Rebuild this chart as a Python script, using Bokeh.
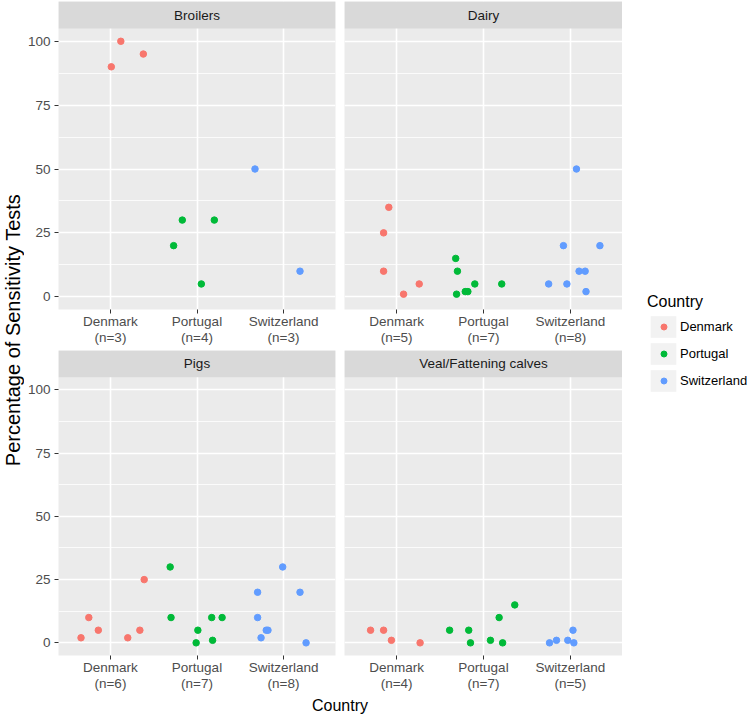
import math
from bokeh.plotting import figure
from bokeh.layouts import row, column
from bokeh.models import (FixedTicker, BoxAnnotation, Label, Legend, LegendItem,
                          ColumnDataSource, Range1d)
from bokeh.embed import file_html
from bokeh.resources import INLINE

# ---------------- data ----------------
COUNTRIES = ["Denmark", "Portugal", "Switzerland"]
COLORS = ["#F8766D", "#00BA38", "#619CFF"]
PANELS = ["Broilers", "Dairy", "Pigs", "Veal/Fattening calves"]

Y_TICKS = [0, 25, 50, 75, 100]
Y_MINOR = [12.5, 37.5, 62.5, 87.5]

N_BROILERS = [3, 4, 3]
N_DAIRY = [5, 7, 8]
N_PIGS = [6, 7, 8]
N_VEAL = [4, 7, 5]

BROILERS_PCT = {"Denmark": [90, 100, 95],
                "Portugal": [20, 30, 5, 30],
                "Switzerland": [50, 10]}
BROILERS_JITTER = {"Denmark": [0.01, 0.12, 0.38],
                   "Portugal": [-0.27, -0.17, 0.05, 0.20],
                   "Switzerland": [-0.33, 0.19]}

DAIRY_PCT = {"Denmark": [35, 25, 10, 1, 5],
             "Portugal": [15, 10, 1, 2, 2, 5, 5],
             "Switzerland": [50, 20, 20, 10, 10, 5, 5, 2]}
DAIRY_JITTER = {"Denmark": [-0.09, -0.15, -0.15, 0.08, 0.26],
                "Portugal": [-0.32, -0.30, -0.31, -0.21, -0.18, -0.10, 0.21],
                "Switzerland": [0.07, -0.08, 0.34, 0.10, 0.17, -0.25, -0.04, 0.18]}

PIGS_PCT = {"Denmark": [2, 10, 5, 2, 5, 25],
            "Portugal": [30, 10, 5, 0, 10, 1, 10],
            "Switzerland": [20, 10, 2, 5, 5, 30, 20, 0]}
PIGS_JITTER = {"Denmark": [-0.34, -0.25, -0.14, 0.20, 0.34, 0.39],
               "Portugal": [-0.31, -0.30, 0.01, -0.01, 0.17, 0.18, 0.29],
               "Switzerland": [-0.30, -0.30, -0.26, -0.20, -0.18, -0.01, 0.19, 0.26]}

VEAL_PCT = {"Denmark": [5, 5, 1, 0],
            "Portugal": [5, 5, 0, 1, 10, 0, 15],
            "Switzerland": [0, 1, 1, 5, 0]}
VEAL_JITTER = {"Denmark": [-0.30, -0.15, -0.06, 0.27],
               "Portugal": [-0.39, -0.17, -0.15, 0.08, 0.18, 0.22, 0.36],
               "Switzerland": [-0.24, -0.16, -0.03, 0.03, 0.04]}

# ---------------- style / layout ----------------
FONT = "Liberation Sans"
FRAME_W = 278
PANEL_H = 281
STRIP_H = 27
BOTTOM1 = 41
BOTTOM2 = 36
LEFT_AXIS = 33
GAP = 5
RIGHT_PAD = 4
XLAB_H = 22
TOP1 = 1
Y_LO, Y_HI = -5, 105
STRIP_UNITS = STRIP_H * (Y_HI - Y_LO) / PANEL_H
ROW1_H = TOP1 + STRIP_H + PANEL_H + BOTTOM1
ROW2_H = STRIP_H + PANEL_H + BOTTOM2
TOTAL_H = ROW1_H + ROW2_H + XLAB_H
YL_W = 24
GRID_W = (LEFT_AXIS + FRAME_W + RIGHT_PAD) + (GAP + FRAME_W)
LG_W = 750 - YL_W - GRID_W


def panel(name, pct, jit, ns, has_yaxis, right_pad, top, bottom):
    left = LEFT_AXIS if has_yaxis else GAP
    p = figure(width=left + FRAME_W + right_pad, height=top + STRIP_H + PANEL_H + bottom,
               title=None,
               x_range=Range1d(0.4, 3.6), y_range=Range1d(Y_LO, Y_HI + STRIP_UNITS),
               output_backend="svg", toolbar_location=None,
               y_axis_location="left" if has_yaxis else None,
               min_border_left=left, min_border_right=right_pad,
               min_border_top=top, min_border_bottom=bottom)
    p.background_fill_color = "#EBEBEB"
    p.border_fill_color = "white"
    p.outline_line_color = None

    # grids
    p.xgrid.ticker = FixedTicker(ticks=[1, 2, 3])
    p.ygrid.ticker = FixedTicker(ticks=Y_TICKS, minor_ticks=Y_MINOR)
    p.grid.grid_line_color = "white"
    p.grid.grid_line_width = 1.6
    p.ygrid.minor_grid_line_color = "white"
    p.ygrid.minor_grid_line_width = 0.8

    # x axis
    xa = p.xaxis[0]
    xa.ticker = FixedTicker(ticks=[1, 2, 3])
    xa.major_label_overrides = {i + 1: f"{c}\n(n={n})" for i, (c, n) in enumerate(zip(COUNTRIES, ns))}
    xa.axis_line_color = None
    xa.major_tick_line_color = "#333333"
    xa.major_tick_out = 4
    xa.major_tick_in = 0
    xa.minor_tick_line_color = None
    xa.major_label_standoff = 0
    xa.major_label_text_font = FONT
    xa.major_label_text_font_size = "13.5px"
    xa.major_label_text_line_height = 1.1
    xa.major_label_text_color = "#4D4D4D"

    if has_yaxis:
        ya = p.yaxis[0]
        ya.ticker = FixedTicker(ticks=Y_TICKS, minor_ticks=Y_MINOR)
        ya.axis_line_color = None
        ya.major_tick_line_color = "#333333"
        ya.major_tick_out = 4
        ya.major_tick_in = 0
        ya.minor_tick_line_color = None
        ya.major_label_standoff = 4
        ya.major_label_text_font = FONT
        ya.major_label_text_font_size = "13.5px"
        ya.major_label_text_color = "#4D4D4D"

    # points
    for i, (c, col) in enumerate(zip(COUNTRIES, COLORS)):
        xs = [i + 1 + j for j in jit[c]]
        src = ColumnDataSource(dict(x=xs, y=pct[c]))
        p.scatter("x", "y", source=src, size=6.5, fill_color=col, line_color=col)

    # facet strip
    p.add_layout(BoxAnnotation(bottom=Y_HI, fill_color="#D9D9D9", fill_alpha=1.0,
                               line_color=None))
    p.add_layout(Label(x=2, y=Y_HI + STRIP_UNITS / 2, text=name, text_align="center",
                       text_baseline="middle", text_font=FONT, text_font_size="13.5px",
                       text_color="#1A1A1A"))
    return p


f1 = panel(PANELS[0], BROILERS_PCT, BROILERS_JITTER, N_BROILERS, True, RIGHT_PAD, TOP1, BOTTOM1)
f2 = panel(PANELS[1], DAIRY_PCT, DAIRY_JITTER, N_DAIRY, False, 0, TOP1, BOTTOM1)
f3 = panel(PANELS[2], PIGS_PCT, PIGS_JITTER, N_PIGS, True, RIGHT_PAD, 0, BOTTOM2)
f4 = panel(PANELS[3], VEAL_PCT, VEAL_JITTER, N_VEAL, False, 0, 0, BOTTOM2)


def blank(w, h):
    b = figure(width=w, height=h, title=None, x_range=Range1d(0, 1), y_range=Range1d(0, 1),
               x_axis_location=None, y_axis_location=None, output_backend="svg",
               toolbar_location=None, min_border=0)
    b.grid.visible = False
    b.outline_line_color = None
    b.background_fill_color = "white"
    b.border_fill_color = "white"
    return b


# y-axis title (centred on the panel area)
yl = blank(YL_W, TOTAL_H)
panel_center_from_top = (TOP1 + ROW1_H + ROW2_H - BOTTOM2) / 2
yl.add_layout(Label(x=12, y=TOTAL_H - panel_center_from_top, x_units="screen",
                    y_units="screen", text="Percentage of Sensitivity Tests",
                    angle=math.pi / 2, text_align="center", text_baseline="middle",
                    text_font=FONT, text_font_size="20px", text_color="black"))

# x-axis title
xl = blank(GRID_W, XLAB_H)
xl.add_layout(Label(x=(LEFT_AXIS + GRID_W) / 2, y=11, x_units="screen",
                    y_units="screen", text="Country", text_align="center",
                    text_baseline="middle", text_font=FONT, text_font_size="16px",
                    text_color="black"))

# legend (key backgrounds + labels, then small dots on top)
lg = blank(LG_W, TOTAL_H)
NAN = float("nan")
bg_items, dot_items = [], []
for c, col in zip(COUNTRIES, COLORS):
    bg = lg.rect(x=[NAN], y=[NAN], width=1, height=1, fill_color="#F2F2F2", line_color=None)
    dot = lg.scatter(x=[NAN], y=[NAN], size=6, fill_color=col, line_color=col)
    bg_items.append(LegendItem(label=c, renderers=[bg]))
    dot_items.append(LegendItem(label="", renderers=[dot]))

leg_bg = Legend(items=bg_items, location=(25, 322), title="Country",
                border_line_color=None, background_fill_alpha=0, padding=0, margin=0,
                spacing=0, glyph_width=32, glyph_height=27, label_height=27,
                label_standoff=1,
                label_text_font=FONT, label_text_font_size="13px", label_text_color="black",
                title_text_font=FONT, title_text_font_size="16px",
                title_text_font_style="normal", title_text_color="black", title_standoff=2)
leg_dot = Legend(items=dot_items, location=(34, 328), border_line_color=None,
                 background_fill_alpha=0, padding=0, margin=0, spacing=12,
                 glyph_width=15, glyph_height=15, label_height=15, label_width=1,
                 label_standoff=0, label_text_font_size="1px")
lg.add_layout(leg_bg)
lg.add_layout(leg_dot)

layout = row(yl, column(row(f1, f2), row(f3, f4), xl), lg)

open("out.html", "w").write(file_html(layout, INLINE))
